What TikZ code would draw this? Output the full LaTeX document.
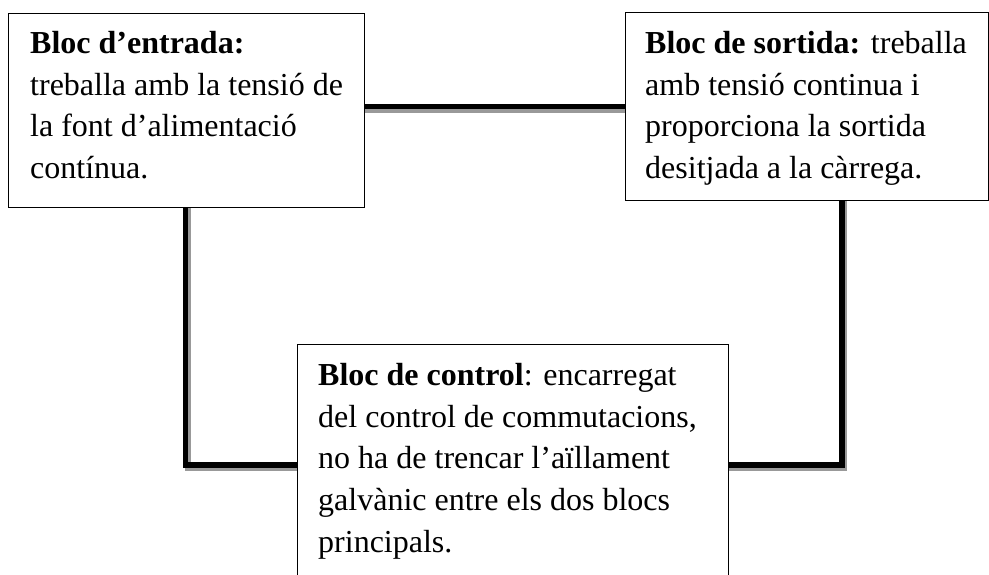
\documentclass[tikz,border=0pt]{standalone}
\usepackage{fontspec}
\setmainfont{Liberation Serif}
\begin{document}
\begin{tikzpicture}[x=1pt,y=-1pt,
  box/.style={draw=black,line width=1.3pt,fill=white,inner sep=0pt,anchor=north west},
  txt/.style={inner sep=0pt,anchor=north west,align=left,font=\fontsize{32}{41.7}\selectfont},
  conn/.style={line width=5.5pt,black},
  connshadow/.style={line width=5.5pt,black!40,transform canvas={shift={(2.5pt,-3.5pt)}}}]
\useasboundingbox (0,0) rectangle (989,575);
% coordinates for connector routes
\coordinate (tl) at (0,106.5);
\coordinate (lc) at (185.5,465);
\coordinate (rc) at (842,465);
% invisible reference nodes for routing (boxes drawn after)
\path (8,13) node[box,draw=none,fill=none,minimum width=356pt,minimum height=194pt] (in) {};
\path (625,12) node[box,draw=none,fill=none,minimum width=363pt,minimum height=188pt] (out) {};
\path (297,344) node[box,draw=none,fill=none,minimum width=431pt,minimum height=250pt] (ctl) {};
% connectors: shadow then black
\draw[connshadow] (in.center |- tl) -- (out.center |- tl);
\draw[connshadow] (lc |- in.center) -- (lc) -- (ctl.center |- lc);
\draw[connshadow] (rc |- out.center) -- (rc) -- (ctl.center |- rc);
\draw[conn] (in.center |- tl) -- (out.center |- tl);
\draw[conn] (lc |- in.center) -- (lc) -- (ctl.center |- lc);
\draw[conn] (rc |- out.center) -- (rc) -- (ctl.center |- rc);
% boxes
\path (8,13) node[box,minimum width=356pt,minimum height=194pt] (inB) {};
\path (625,12) node[box,minimum width=363pt,minimum height=188pt] (outB) {};
\path (297,344) node[box,minimum width=431pt,minimum height=250pt] (ctlB) {};
% texts
\node[txt] (inT) at (30,31) {\textbf{Bloc d’entrada:}\\treballa amb la tensió de\\la font d’alimentació\\contínua.};
\node[txt] (outT) at (645,31) {\textbf{Bloc de sortida:} treballa\\amb tensió continua i\\proporciona la sortida\\desitjada a la càrrega.};
\node[txt] (ctlT) at (318,363) {\textbf{Bloc de control}: encarregat\\del control de commutacions,\\no ha de trencar l’aïllament\\galvànic entre els dos blocs\\principals.};
\end{tikzpicture}
\end{document}
